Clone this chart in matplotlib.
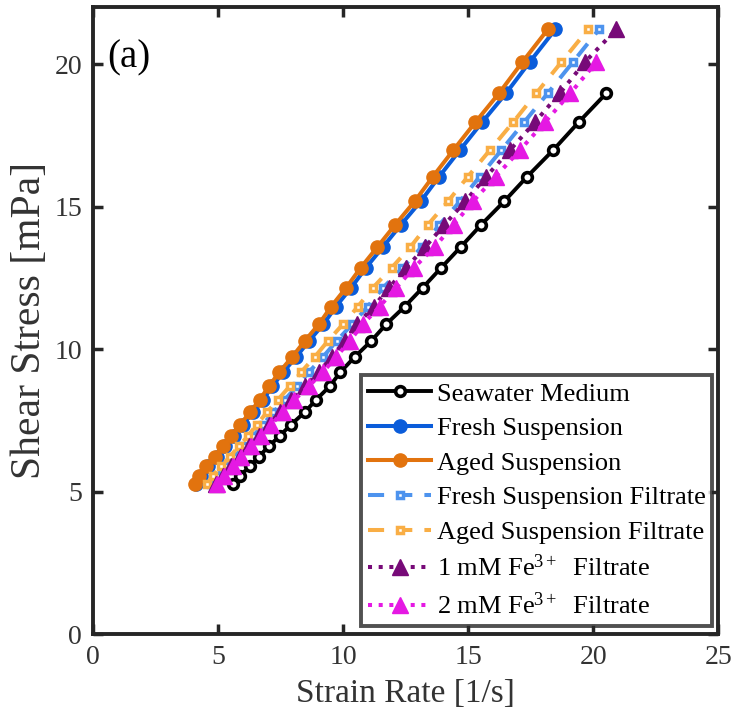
import matplotlib

matplotlib.use("Agg")
import matplotlib.pyplot as plt

# shear stress levels [mPa] (same controlled levels for every sample)
stress = [5.27, 5.57, 5.89, 6.23, 6.59, 6.96, 7.36, 7.79, 8.23, 8.70, 9.20, 9.73, 10.29,
          10.88, 11.50, 12.16, 12.86, 13.59, 14.37, 15.19, 16.06, 16.98, 17.96, 18.98,
          20.07, 21.22]

# strain rate [1/s] per sample
seawater = [5.59, 5.88, 6.27, 6.62, 7.02, 7.46, 7.92, 8.46, 8.92, 9.46, 9.89, 10.46, 11.12,
            11.72, 12.46, 13.18, 13.92, 14.70, 15.52, 16.44, 17.36, 18.39, 19.41, 20.52]
fresh_susp = [4.12, 4.30, 4.60, 4.94, 5.28, 5.62, 5.99, 6.40, 6.79, 7.17, 7.60, 8.12, 8.63,
              9.21, 9.71, 10.32, 10.91, 11.59, 12.31, 13.10, 13.84, 14.66, 15.55, 16.51,
              17.45, 18.48]
aged_susp = [4.06, 4.23, 4.52, 4.86, 5.19, 5.52, 5.88, 6.28, 6.66, 7.03, 7.45, 7.96, 8.46,
             9.03, 9.52, 10.12, 10.70, 11.37, 12.08, 12.86, 13.59, 14.40, 15.28, 16.23,
             17.16, 18.18]
fresh_filt = [4.70, 4.95, 5.30, 5.65, 6.04, 6.41, 6.79, 7.21, 7.66, 8.15, 8.63, 9.19, 9.74,
              10.36, 10.98, 11.60, 12.37, 13.14, 13.85, 14.67, 15.46, 16.32, 17.23, 18.18,
              19.18, 20.23]
aged_filt = [4.55, 4.79, 5.12, 5.46, 5.83, 6.19, 6.55, 6.95, 7.39, 7.86, 8.32, 8.86, 9.39,
             9.99, 10.59, 11.19, 11.94, 12.69, 13.39, 14.19, 14.99, 15.86, 16.79, 17.72,
             18.72, 19.79]
fe1_filt = [4.92, 5.21, 5.53, 5.86, 6.23, 6.62, 7.03, 7.47, 7.93, 8.48, 9.03, 9.54, 10.06,
            10.57, 11.22, 11.84, 12.52, 13.28, 14.05, 14.88, 15.72, 16.66, 17.66, 18.66,
            19.66, 20.92]
fe2_filt = [4.95, 5.25, 5.58, 5.92, 6.30, 6.70, 7.12, 7.58, 8.05, 8.62, 9.19, 9.72, 10.26,
            10.79, 11.46, 12.12, 12.83, 13.66, 14.42, 15.19, 16.10, 17.06, 18.06, 19.08,
            20.12]

plt.rcParams["font.family"] = ["Liberation Serif", "DejaVu Serif"]
plt.rcParams["mathtext.fontset"] = "custom"
plt.rcParams["mathtext.rm"] = "Liberation Serif"
plt.rcParams["mathtext.it"] = "Liberation Serif:italic"

fig = plt.figure(figsize=(7.33, 7.2), dpi=100)
ax = fig.add_axes([0.127, 0.119, 0.853, 0.871])

ax.plot(seawater, stress[:len(seawater)], "-o", color="black", lw=2.8, ms=7,
        mfc="white", mec="black", mew=2.6, label="Seawater Medium")
ax.plot(fresh_susp, stress, "-o", color="#0A5CDA", lw=2.9, ms=9.5,
        label="Fresh Suspension")
ax.plot(aged_susp, stress, "-o", color="#E2730E", lw=2.9, ms=9.5,
        label="Aged Suspension")
ax.plot(fresh_filt, stress, "--s", color="#4D93EE", lw=2.9, ms=5, dashes=(4, 3),
        mfc="white", mec="#4D93EE", mew=2.5, label="Fresh Suspension Filtrate")
ax.plot(aged_filt, stress, "--s", color="#F9AE45", lw=2.9, ms=5, dashes=(4, 3),
        mfc="white", mec="#F9AE45", mew=2.5, label="Aged Suspension Filtrate")
ax.plot(fe1_filt, stress, ":^", color="#770A78", lw=2.9, ms=12,
        label="1 mM Fe$^{3+}$  Filtrate")
ax.plot(fe2_filt, stress[:len(fe2_filt)], ":^", color="#E519E3", lw=2.9, ms=12,
        label="2 mM Fe$^{3+}$  Filtrate")

ax.set_xlim(0, 25)
ax.set_ylim(0, 22)
ax.set_xticks([0, 5, 10, 15, 20, 25])
ax.set_yticks([0, 5, 10, 15, 20])
ax.tick_params(direction="in", length=7, width=2.5, top=True, right=True,
               labelsize=20, labelcolor="#333333", color="#262626", pad=8)
for spine in ax.spines.values():
    spine.set_linewidth(2.8)
    spine.set_color("#262626")

ax.set_xlabel("Strain Rate [1/s]", fontsize=24, color="#333333", labelpad=6)
ax.set_ylabel("Shear Stress [mPa]", fontsize=30, color="#333333", labelpad=4)
ax.text(0.022, 0.948, "(a)", transform=ax.transAxes, fontsize=28, va="top", ha="left")

leg = ax.legend(loc="lower right", bbox_to_anchor=(0.99, 0.014), fontsize=19,
                frameon=True, fancybox=False, edgecolor="#262626", handlelength=2.4,
                handletextpad=0.2, borderpad=0.25, labelspacing=0.42, borderaxespad=0)
leg.get_frame().set_linewidth(2.8)

fig.savefig("out.png", dpi=100)
